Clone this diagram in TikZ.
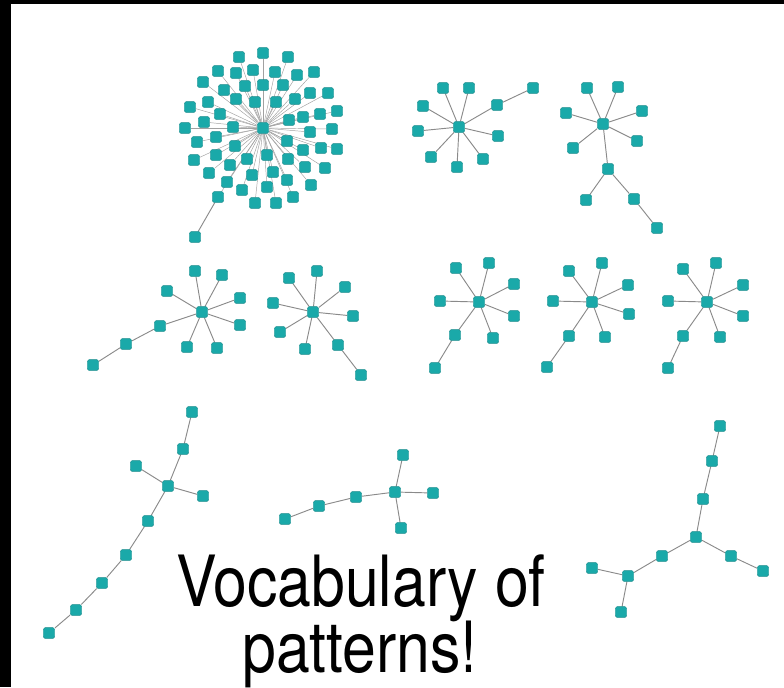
\documentclass[tikz,border=0pt]{standalone}
\usepackage{fontspec}
\setmainfont{TeX Gyre Heros}[FakeStretch=0.86]
\usepackage{tikz}
\usetikzlibrary{backgrounds}
\usepackage{xcolor}
\definecolor{genefill}{HTML}{1AA9A9}
\definecolor{geneline}{HTML}{15898A}
\definecolor{linkgray}{HTML}{8A8A8A}

\begin{document}
\begin{tikzpicture}[
    x=0.75pt, y=-0.75pt,
    gene/.style={draw=geneline, fill=genefill, line width=0.3pt, rounded corners=1.2pt,
                 minimum width=8.6pt, minimum height=8pt, inner sep=0pt},
    link/.style={draw=linkgray, line width=0.7pt},
    fanlink/.style={draw=linkgray!80, line width=0.35pt},
    bigtext/.style={anchor=base, inner sep=0pt, font=\fontsize{53}{53}\selectfont}
]
  \useasboundingbox (0,0) rectangle (784,687);

  % Black frame on top and left
  \fill[black] (0,0) rectangle (784,4);
  \fill[black] (0,0) rectangle (11,687);

  % Big star: one hub with many leaves
  \node[gene] (star) at (263,128) {};
  \foreach \px/\py [count=\i] in {239/57, 263/53, 288/57, 218/71, 236/73, 253/70, 275/72,
      297/75, 314/72, 203/82, 224/90, 245/86, 263/85, 283/85, 310/93, 328/93, 190/107,
      208/102, 236/99, 255/102, 276/102, 295/99, 220/114, 204/122, 289/120, 303/117,
      320/114, 337/111, 185/128, 233/127, 310/132, 332/129, 197/142, 216/137, 235/146,
      287/141, 303/150, 321/148, 337/149, 194/160, 216/155, 247/159, 267/155, 288/159,
      230/165, 305/167, 325/168, 209/173, 252/175, 273/172, 287/180, 227/182, 242/190,
      267/187, 311/185, 293/197, 218/197, 255/203, 276/203} {
    \node[gene] (s\i) at (\px,\py) {};
  }
  \node[gene] (s60) at (195,237) {};

  % Smaller stars and chains
  \foreach \n/\px/\py in {
      b/459/127, b1/443/88, b2/469/88, b3/423/106, b4/418/131, b5/431/157, b6/457/167,
      b7/483/159, b8/498/136, b9/497/105, b10/533/88,
      c/603/124, c1/587/88, c2/618/87, c3/566/113, c4/642/111, c5/637/141, c6/573/148,
      c7/608/169, c8/586/200, c9/634/199, c10/657/228,
      d/202/312, d1/195/271, d2/222/275, d3/167/291, d4/240/298, d5/240/325, d6/187/347,
      d7/217/348, d8/160/326, d9/126/344, d10/93/365,
      e/313/312, e1/289/278, e2/317/271, e3/345/287, e4/273/303, e5/353/316, e6/280/332,
      e7/305/349, e8/338/345, e9/361/375,
      f/479/302, f1/456/268, f2/489/263, f3/514/284, f4/440/301, f5/514/316, f6/493/338,
      f7/455/335, f8/435/368,
      g/592/302, g1/569/271, g2/602/263, g3/628/285, g4/553/301, g5/629/314, g6/605/337,
      g7/569/336, g8/547/367,
      h/707/302, h1/683/269, h2/716/263, h3/743/285, h4/668/301, h5/743/316, h6/720/337,
      h7/683/336, h8/668/368,
      i1/192/412, i2/183/449, i3/168/486, i4/136/466, i5/203/496, i6/148/521, i7/126/555,
      i8/102/583, i9/76/610, i10/49/633,
      j1/285/519, j2/319/506, j3/356/497, j4/395/492, j5/403/455, j6/433/493, j7/401/528,
      k1/720/426, k2/712/461, k3/703/499, k4/696/537, k5/731/556, k6/763/571, k7/662/556,
      k8/628/576, k9/592/568, k10/621/612} {
    \node[gene] (\n) at (\px,\py) {};
  }

  % Edges go behind the boxes
  \begin{scope}[on background layer]
    \foreach \i in {1,...,59} {
      \draw[fanlink] (star) -- (s\i);
    }
    \draw[link] (s57) -- (s60);
    \foreach \a/\b in {b/b1, b/b2, b/b3, b/b4, b/b5, b/b6, b/b7, b/b8, b/b9, b9/b10,
        c/c1, c/c2, c/c3, c/c4, c/c5, c/c6, c/c7, c7/c8, c7/c9, c9/c10,
        d/d1, d/d2, d/d3, d/d4, d/d5, d/d6, d/d7, d/d8, d8/d9, d9/d10,
        e/e1, e/e2, e/e3, e/e4, e/e5, e/e6, e/e7, e/e8, e8/e9,
        f/f1, f/f2, f/f3, f/f4, f/f5, f/f6, f/f7, f7/f8,
        g/g1, g/g2, g/g3, g/g4, g/g5, g/g6, g/g7, g7/g8,
        h/h1, h/h2, h/h3, h/h4, h/h5, h/h6, h/h7, h7/h8,
        i1/i2, i2/i3, i3/i4, i3/i5, i3/i6, i6/i7, i7/i8, i8/i9, i9/i10,
        j1/j2, j2/j3, j3/j4, j4/j5, j4/j6, j4/j7,
        k1/k2, k2/k3, k3/k4, k4/k5, k5/k6, k4/k7, k7/k8, k8/k9, k8/k10} {
      \draw[link] (\a) -- (\b);
    }
  \end{scope}

  % Caption
  \node[bigtext] (voc) at (361,606) {Vocabulary of};
  \node[bigtext] (pat) at (360,672.5) {patterns!};
\end{tikzpicture}
\end{document}
